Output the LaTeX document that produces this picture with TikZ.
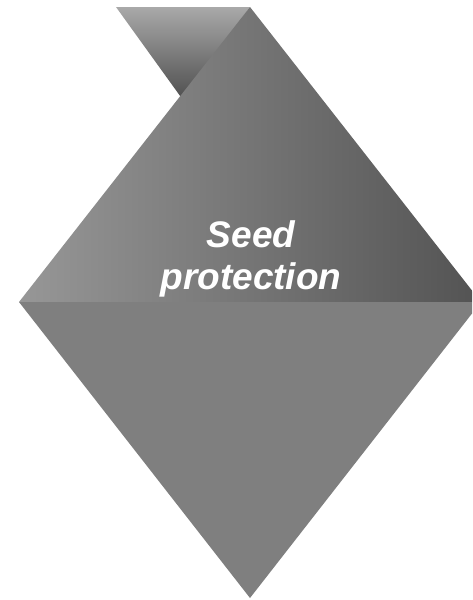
\documentclass[tikz,border=0pt]{standalone}
\usepackage{fontspec}
\setmainfont{Liberation Sans}
\definecolor{flaptop}{HTML}{A9A9A9}
\definecolor{flapbot}{HTML}{4E4E4E}
\definecolor{upleft}{HTML}{979797}
\definecolor{upright}{HTML}{535353}
\definecolor{lowgray}{HTML}{7F7F7F}
\tikzset{labeltext/.style={text=white,font=\fontsize{37}{42}\selectfont\bfseries\itshape,align=center,inner sep=0pt}}
\begin{document}
\begin{tikzpicture}[x=1pt,y=-1pt]
\useasboundingbox (0,0) rectangle (472,600);
\begin{scope}
\clip (0,0) rectangle (472,600);
\shade[top color=flaptop,bottom color=flapbot] (116,7) -- (250,7) -- (183,100) -- cycle;
\shade[left color=upleft,right color=upright] (250,7) -- (19,302) -- (481,302) -- cycle;
\fill[lowgray] (19,302) -- (481,302) -- (250,598) -- cycle;
\end{scope}
\node[labeltext] (lbl) at (251,259) {Seed\\protection};
\end{tikzpicture}
\end{document}
